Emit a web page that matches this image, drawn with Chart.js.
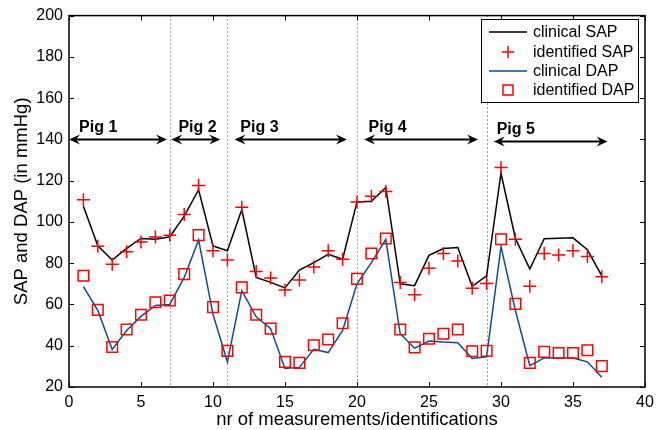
<!DOCTYPE html>
<html>
<head>
<meta charset="utf-8">
<script src="https://cdn.jsdelivr.net/npm/chart.js@4"></script>
<style>
  html, body { margin: 0; padding: 0; background: #fff; }
  #wrap { width: 665px; height: 430px; }
</style>
</head>
<body>
<div id="wrap"><canvas id="c" width="665" height="430"></canvas></div>
<script>
// ---- data ----
const measurements = [1,2,3,4,5,6,7,8,9,10,11,12,13,14,15,16,17,18,19,20,21,22,23,24,25,26,27,28,29,30,31,32,33,34,35,36,37];
const clinicalSAP = [107.6,88.4,81.5,87.2,92.0,91.6,92.8,102.8,115.6,88.4,86.0,106.0,73.1,70.7,68.0,76.7,80.3,84.3,81.9,109.7,110.0,116.7,70.0,69.1,83.8,87.1,87.6,68.8,73.9,123.6,92.0,77.2,91.9,92.1,92.3,86.5,73.9];
const identifiedSAP = [110.8,88.2,79.5,85.6,90.3,92.7,93.6,103.6,117.7,86.0,81.5,107.1,76.0,72.8,67.0,71.9,78.2,86.0,81.9,109.7,112.4,114.8,70.7,64.7,77.6,84.7,81.1,67.8,70.2,126.4,91.6,68.8,84.7,84.0,86.0,83.2,73.4];
const clinicalDAP = [68.6,57.1,38.2,47.4,54.2,59.5,60.0,73.1,91.3,55.2,32.2,66.7,54.0,48.3,29.0,29.5,38.3,36.7,47.4,70.0,80.3,91.6,45.8,38.8,42.3,41.8,41.5,33.8,34.6,88.0,57.1,30.3,34.1,34.0,34.0,32.2,24.7];
const identifiedDAP = [73.9,57.4,39.4,47.9,55.0,61.1,61.9,74.7,93.6,58.7,37.5,68.3,55.0,48.3,32.2,31.7,40.2,43.0,50.9,72.4,84.7,92.0,47.9,39.2,43.4,45.8,47.9,37.3,37.5,91.6,60.3,31.7,37.0,36.5,36.5,37.8,30.1];
const seriesLabels = ['clinical SAP','identified SAP','clinical DAP','identified DAP'];
const xTicks = [0,5,10,15,20,25,30,35,40];
const yTicks = [20,40,60,80,100,120,140,160,180,200];
const pigBoundaries = [7,11,20,29];
const pigLabels = ['Pig 1','Pig 2','Pig 3','Pig 4','Pig 5'];
const pigArrowStart = [0,7.1,11.5,20.5,29.5];
const pigArrowEnd = [6.8,10.5,19.3,28.4,37.4];
const pigArrowY = [140,140,140,140,139];
const pigTextX = [0.7,7.6,11.9,20.8,29.7];

const pts = (vals) => measurements.map((m,i)=>({x:m, y:vals[i]}));

const FONT = "'Liberation Sans', Arial, Helvetica, sans-serif";
const RED = '#ff0000';
const BLUE = '#0b4a96';

const decor = {
  id: 'decor',
  beforeDatasetsDraw(chart) {
    const {ctx, chartArea: a, scales: {x}} = chart;
    ctx.save();
    ctx.strokeStyle = '#444';
    ctx.lineWidth = 1;
    ctx.setLineDash([1,3]);
    pigBoundaries.forEach(b => {
      const px = Math.round(x.getPixelForValue(b)) + 0.5;
      ctx.beginPath(); ctx.moveTo(px, a.top); ctx.lineTo(px, a.bottom); ctx.stroke();
    });
    ctx.restore();
  },
  afterDatasetsDraw(chart) {
    const {ctx, chartArea: a, scales: {x, y}} = chart;
    ctx.save();
    // pig arrows + labels
    ctx.strokeStyle = '#000'; ctx.fillStyle = '#000'; ctx.lineWidth = 2;
    const head = (tx, ty, dir) => {
      ctx.beginPath();
      ctx.moveTo(tx, ty);
      ctx.lineTo(tx + dir*11, ty - 5);
      ctx.lineTo(tx + dir*7, ty);
      ctx.lineTo(tx + dir*11, ty + 5);
      ctx.closePath(); ctx.fill();
    };
    pigLabels.forEach((lab, i) => {
      const x1 = x.getPixelForValue(pigArrowStart[i]);
      const x2 = x.getPixelForValue(pigArrowEnd[i]);
      const py = y.getPixelForValue(pigArrowY[i]);
      ctx.beginPath(); ctx.moveTo(x1 + 6, py); ctx.lineTo(x2 - 6, py); ctx.stroke();
      head(x1, py, 1); head(x2, py, -1);
      ctx.font = 'bold 16px ' + FONT;
      ctx.textAlign = 'left'; ctx.textBaseline = 'alphabetic';
      ctx.fillText(lab, x.getPixelForValue(pigTextX[i]), py - 7);
    });
    // axes box
    ctx.lineWidth = 1.5; ctx.strokeStyle = '#000';
    ctx.strokeRect(a.left, a.top, a.right - a.left, a.bottom - a.top);
    // inward ticks
    ctx.lineWidth = 1;
    const tl = 5;
    xTicks.forEach(v => {
      const px = Math.round(x.getPixelForValue(v)) + 0.5;
      ctx.beginPath();
      ctx.moveTo(px, a.bottom); ctx.lineTo(px, a.bottom - tl);
      ctx.moveTo(px, a.top); ctx.lineTo(px, a.top + tl);
      ctx.stroke();
    });
    yTicks.forEach(v => {
      const py = Math.round(y.getPixelForValue(v)) + 0.5;
      ctx.beginPath();
      ctx.moveTo(a.left, py); ctx.lineTo(a.left + tl, py);
      ctx.moveTo(a.right, py); ctx.lineTo(a.right - tl, py);
      ctx.stroke();
    });
    // legend
    const lx = 481, ly = 19, lw = 157, lh = 83;
    ctx.fillStyle = '#fff';
    ctx.fillRect(lx, ly, lw, lh);
    ctx.strokeStyle = '#000'; ctx.lineWidth = 1;
    ctx.strokeRect(lx + 0.5, ly + 0.5, lw, lh);
    const rows = [32, 52, 71, 90];
    const ds = chart.data.datasets;
    ds.forEach((d, i) => {
      const ry = rows[i];
      const cx = 508;
      ctx.strokeStyle = d.borderColor; ctx.lineWidth = 1.5;
      if (d.showLine) {
        ctx.beginPath(); ctx.moveTo(489, ry); ctx.lineTo(527, ry); ctx.stroke();
      } else if (d.pointStyle === 'cross') {
        ctx.beginPath();
        ctx.moveTo(cx - 6, ry); ctx.lineTo(cx + 6, ry);
        ctx.moveTo(cx, ry - 6); ctx.lineTo(cx, ry + 6);
        ctx.stroke();
      } else {
        ctx.strokeRect(cx - 5, ry - 5, 10, 10);
      }
      ctx.fillStyle = '#000';
      ctx.font = '16px ' + FONT;
      ctx.textAlign = 'left'; ctx.textBaseline = 'middle';
      ctx.fillText(d.label, 533, ry + 1);
    });
    ctx.restore();
  }
};

new Chart(document.getElementById('c'), {
  type: 'line',
  data: {
    datasets: [
      { label: seriesLabels[0], data: pts(clinicalSAP), borderColor: '#000', borderWidth: 1.5, pointRadius: 0, showLine: true, tension: 0, order: 2 },
      { label: seriesLabels[1], data: pts(identifiedSAP), borderColor: RED, backgroundColor: RED, showLine: false, pointStyle: 'cross', pointRadius: 6.5, pointBorderWidth: 1.5, pointBorderColor: RED, order: 0 },
      { label: seriesLabels[2], data: pts(clinicalDAP), borderColor: BLUE, borderWidth: 1.5, pointRadius: 0, showLine: true, tension: 0, order: 2 },
      { label: seriesLabels[3], data: pts(identifiedDAP), borderColor: RED, backgroundColor: 'rgba(0,0,0,0)', showLine: false, pointStyle: 'rect', pointRadius: 7.5, pointBorderWidth: 1.5, pointBorderColor: RED, pointBackgroundColor: 'rgba(0,0,0,0)', order: 0 }
    ]
  },
  options: {
    responsive: false,
    animation: false,
    events: [],
    layout: { padding: { left: 0, right: 20, top: 13, bottom: 0 } },
    plugins: { legend: { display: false }, tooltip: { enabled: false } },
    scales: {
      x: {
        type: 'linear', min: 0, max: 40,
        afterFit: s => { s.height = 43; },
        afterBuildTicks: s => { s.ticks = xTicks.map(v => ({value: v})); },
        grid: { display: false, drawTicks: false },
        border: { display: false },
        ticks: { color: '#000', padding: 6, maxRotation: 0, font: { family: FONT, size: 16 } },
        title: { display: true, text: 'nr of measurements/identifications', color: '#000', font: { family: FONT, size: 18.5, lineHeight: 1 }, padding: { top: 0, bottom: 1 } }
      },
      y: {
        type: 'linear', min: 20, max: 200,
        afterFit: s => { s.width = 69; },
        afterBuildTicks: s => { s.ticks = yTicks.map(v => ({value: v})); },
        grid: { display: false, drawTicks: false },
        border: { display: false },
        ticks: { color: '#000', padding: 6, font: { family: FONT, size: 16 } },
        title: { display: true, text: 'SAP and DAP (in mmHg)', color: '#000', font: { family: FONT, size: 18.5 }, padding: { top: 11, bottom: 0 } }
      }
    }
  },
  plugins: [decor]
});
</script>
</body>
</html>
